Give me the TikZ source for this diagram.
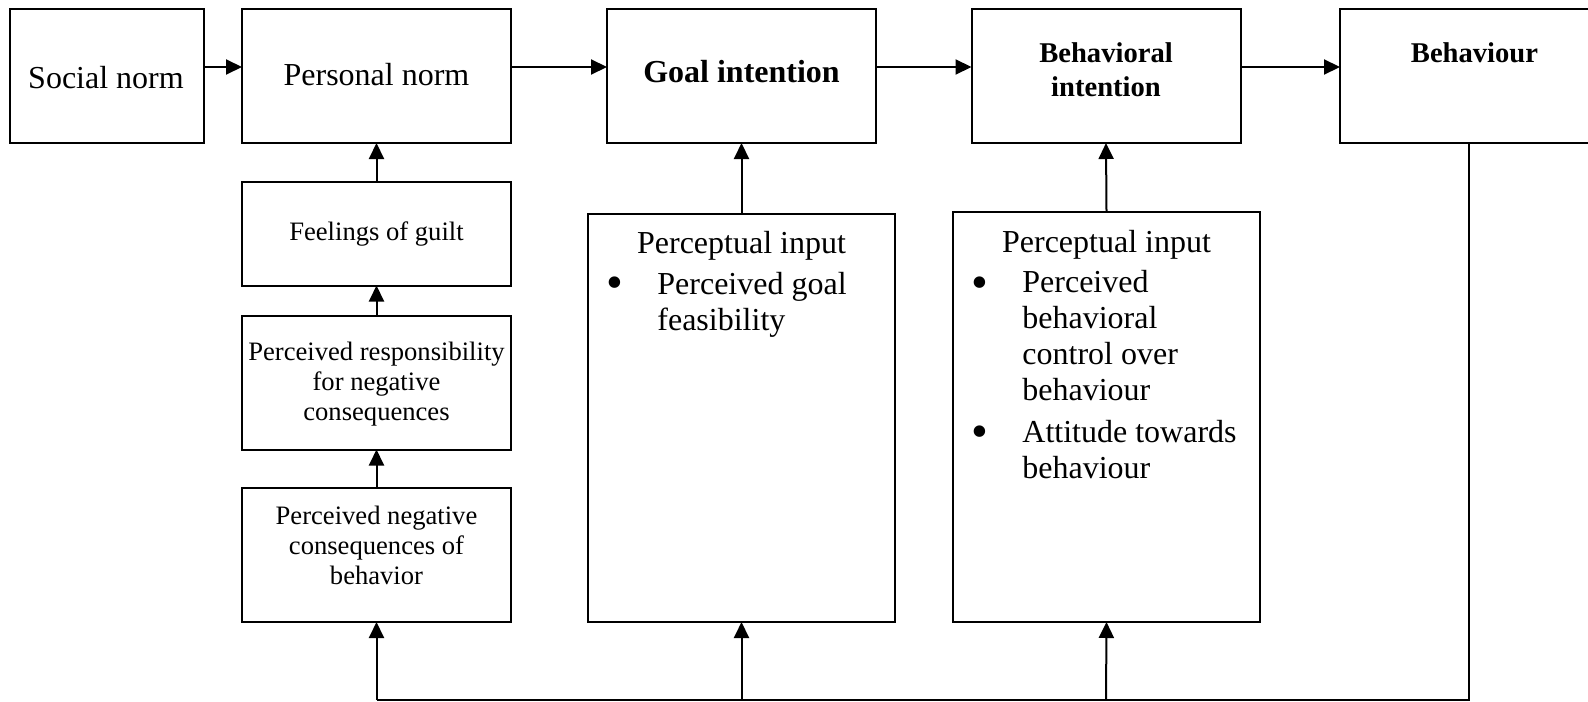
\documentclass[tikz,border=0pt]{standalone}
\usepackage{fontspec}
\setmainfont{Liberation Serif}
\usetikzlibrary{arrows.meta}
\begin{document}
\begin{tikzpicture}[x=0.5pt,y=-0.5pt,
  box/.style={draw,line width=1pt,inner sep=0pt,outer sep=0pt,fill=none},
  arr/.style={line width=1pt,-{Triangle[length=8pt,width=7.5pt]}},
  ln/.style={line width=1pt},
  big/.style={font=\fontsize{16}{18}\selectfont,inner sep=0pt,anchor=base},
  bigl/.style={font=\fontsize{16}{18}\selectfont,inner sep=0pt,anchor=base west,align=left},
  bld/.style={font=\fontsize{16}{18}\selectfont\bfseries,inner sep=0pt,anchor=base},
  bldsm/.style={font=\fontsize{14.3}{17}\selectfont\bfseries,inner sep=0pt,anchor=base,align=center},
  small/.style={font=\fontsize{13.3}{15}\selectfont,inner sep=0pt,anchor=base,align=center},
  bul/.style={font=\fontsize{24}{24}\selectfont,inner sep=0pt,anchor=base}
]
\useasboundingbox (0,0) rectangle (1588,701);
\clip (0,0) rectangle (1588,701);

% top row boxes
\node[box,minimum width=97pt,minimum height=67pt] (social) at (107,76) {};
\node[box,minimum width=134.5pt,minimum height=67pt] (personal) at (376.5,76) {};
\node[box,minimum width=134.5pt,minimum height=67pt] (goal) at (741.5,76) {};
\node[box,minimum width=134.5pt,minimum height=67pt] (behint) at (1106,76) {};
\node[box,minimum width=134.5pt,minimum height=67pt] (beh) at (1474.5,76) {};

% left column
\node[box,minimum width=134.5pt,minimum height=52pt] (guilt) at (376.5,233.5) {};
\node[box,minimum width=134.5pt,minimum height=67pt] (resp) at (376.5,382.5) {};
\node[box,minimum width=134.5pt,minimum height=67pt] (neg) at (376.5,555) {};

% perceptual input boxes
\node[box,minimum width=153.5pt,minimum height=204pt] (pi1) at (741.5,418) {};
\node[box,minimum width=153.5pt,minimum height=205pt] (pi2) at (1106.5,417) {};

% texts (anchor base = baseline of the last line)
\node[big] (tsocial) at (106,89) {Social norm};
\node[big] (tpersonal) at (376.5,86) {Personal norm};
\node[bld] (tgoal) at (741.5,83) {Goal intention};
\node[bldsm] (tbehint) at (1106,97) {Behavioral\\intention};
\node[bldsm] (tbeh) at (1474.5,63) {Behaviour};

\node[small] (tguilt) at (376.5,240) {Feelings of guilt};
\node[small] (tresp) at (376.5,420) {Perceived responsibility\\for negative\\consequences};
\node[small] (tneg) at (376.5,584) {Perceived negative\\consequences of\\behavior};

\node[big] (tpi1) at (741.5,253) {Perceptual input};
\node[bul] (b11) at (615,298.5) {•};
\node[bigl] (tpi1a) at (657,330) {Perceived goal\\feasibility};

\node[big] (tpi2) at (1106.5,252) {Perceptual input};
\node[bul] (b21) at (980,298.5) {•};
\node[bigl] (tpi2a) at (1022,400) {Perceived\\behavioral\\control over\\behaviour};
\node[bul] (b22) at (980,447.5) {•};
\node[bigl] (tpi2b) at (1022,478) {Attitude towards\\behaviour};

% horizontal arrows
\draw[arr] ([yshift=4.5pt]social.east) -- ([yshift=4.5pt]personal.west);
\draw[arr] ([yshift=4.5pt]personal.east) -- ([yshift=4.5pt]goal.west);
\draw[arr] ([yshift=4.5pt]goal.east) -- ([yshift=4.5pt]behint.west);
\draw[arr] ([yshift=4.5pt]behint.east) -- ([yshift=4.5pt]beh.west);

% vertical arrows
\draw[arr] (guilt.north) -- (personal.south);
\draw[arr] (resp.north) -- (guilt.south);
\draw[arr] (neg.north) -- (resp.south);
\draw[arr] (pi1.north) -- (goal.south);
\draw[arr] (pi2.north) -- (behint.south);

% feedback loop
\coordinate (fb) at (1469,700);
\coordinate (f1) at (376.5,700);
\coordinate (f2) at (741.5,700);
\coordinate (f3) at (1106,700);
\draw[ln] (beh.south -| fb) -- (fb) -- (f1);
\draw[arr] (f1) -- (neg.south);
\draw[arr] (f2) -- (pi1.south);
\draw[arr] (f3) -- (pi2.south);
\end{tikzpicture}
\end{document}
